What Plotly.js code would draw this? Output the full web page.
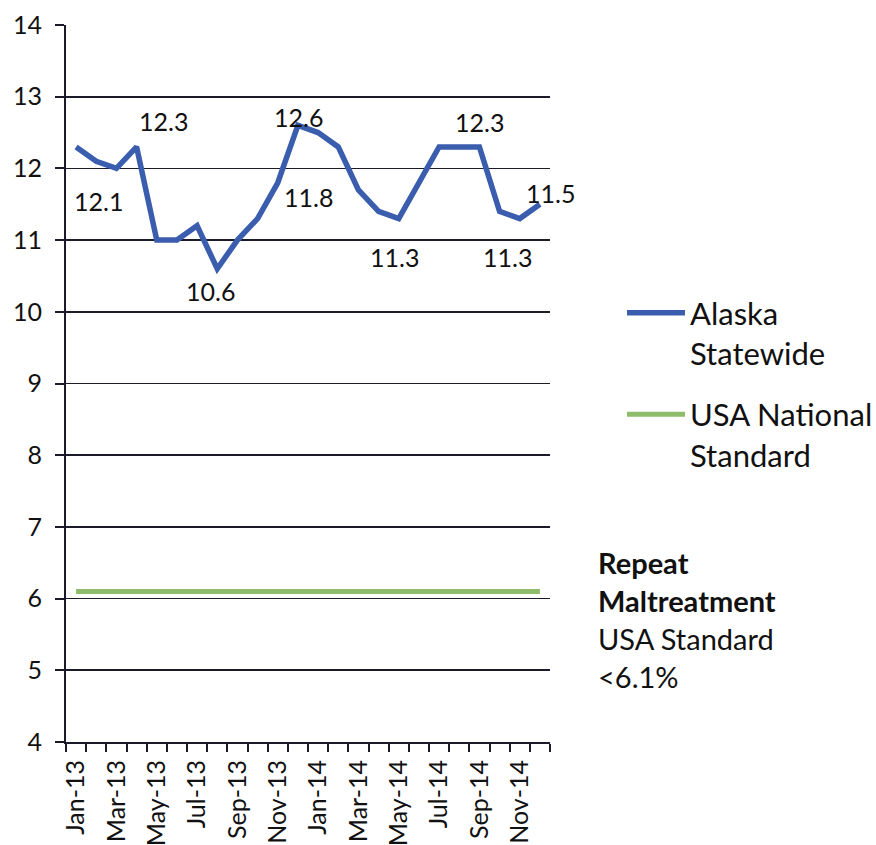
<!DOCTYPE html>
<html>
<head>
<meta charset="utf-8">
<script src="https://cdn.plot.ly/plotly-3.0.1.min.js"></script>
<style>html,body{margin:0;padding:0;background:#fff;}#chart{width:876px;height:845px;}</style>
</head>
<body>
<div id="chart"></div>
<script>
const months = ["Jan-13","Feb-13","Mar-13","Apr-13","May-13","Jun-13","Jul-13","Aug-13","Sep-13","Oct-13","Nov-13","Dec-13",
                "Jan-14","Feb-14","Mar-14","Apr-14","May-14","Jun-14","Jul-14","Aug-14","Sep-14","Oct-14","Nov-14","Dec-14"];
const alaska = [12.3,12.1,12.0,12.3,11.0,11.0,11.2,10.6,11.0,11.3,11.8,12.6,
                12.5,12.3,11.7,11.4,11.3,11.8,12.3,12.3,12.3,11.4,11.3,11.5];
const usaStandard = [6.1,6.1,6.1,6.1,6.1,6.1,6.1,6.1,6.1,6.1,6.1,6.1,
                     6.1,6.1,6.1,6.1,6.1,6.1,6.1,6.1,6.1,6.1,6.1,6.1];
const seriesNames = ["Alaska<br>Statewide","USA National<br>Standard"];
// labelled points: index into months, label offset in px
const labelIdx   = [1, 3, 7, 10, 11, 16, 19, 22, 23];
const labelShift = [[2,-40],[27,26],[-7,-22],[31,-14],[1,8],[-4,-38],[20,25],[-12,-38],[11,11]];
const noteLines = ["<b>Repeat</b>","<b>Maltreatment</b>","USA Standard","<6.1%"];

const FONT = "Lato, 'Open Sans', sans-serif";

const traces = [
  {x: months, y: alaska, type:"scatter", mode:"lines", name: seriesNames[0], legendgroup:"a",
   line:{color:"#3a5dae", width:5.5}},
  {x: months, y: usaStandard, type:"scatter", mode:"lines", name: seriesNames[1], legendgroup:"b",
   line:{color:"#8dbd6a", width:5}}
];

const L=66, R=550, T=25, B=742;
const annotations = labelIdx.map((idx,k)=>({
  x: months[idx], y: alaska[idx], xref:"x", yref:"y",
  text: alaska[idx].toFixed(1), showarrow:false,
  xshift: labelShift[k][0], yshift: labelShift[k][1],
  font:{family:FONT, size:25, color:"#111"}
}));
noteLines.forEach((t,i)=>{
  annotations.push({x: (596 - L)/(R-L), y: (B - (562 + i*38))/(B-T), xref:"paper", yref:"paper",
    text:t, showarrow:false, xanchor:"left", yanchor:"middle",
    font:{family:FONT, size:29, color:"#111"}});
});

const layout = {
  width:876, height:845,
  margin:{l:L, r:876-R, t:T, b:845-B, autoexpand:false},
  paper_bgcolor:"#fff", plot_bgcolor:"#fff",
  font:{family:FONT, color:"#111"},
  showlegend:true,
  legend:{x:(622-L)/(R-L), y:(B-286)/(B-T), xanchor:"left", yanchor:"top",
          font:{family:FONT, size:31, color:"#111"}, valign:"top", traceorder:"grouped",
          itemwidth:58, tracegroupgap:18, bgcolor:"rgba(0,0,0,0)"},
  xaxis:{type:"category", range:[-0.5, 23.5], tickmode:"linear", tick0:0, dtick:1, ticklabelstep:2,
         tickangle:-90, tickson:"boundaries", ticks:"outside", ticklen:8, tickcolor:"#1a1a2a", tickwidth:2,
         ticklabelstandoff:6,
         showgrid:false, showline:true, linecolor:"#1a1a2a", linewidth:2,
         tickfont:{family:FONT, size:25, color:"#111"}, zeroline:false},
  yaxis:{range:[4,14], dtick:1, tick0:4, ticks:"outside", ticklen:9, tickcolor:"#1a1a2a", tickwidth:2,
         ticklabelstandoff:8,
         showgrid:true, gridcolor:"#1a1a2a", gridwidth:1.8, showline:true, linecolor:"#1a1a2a", linewidth:2,
         tickfont:{family:FONT, size:25, color:"#111"}, zeroline:false},
  annotations: annotations
};

Plotly.newPlot("chart", traces, layout, {displayModeBar:false, staticPlot:true});
</script>
</body>
</html>
